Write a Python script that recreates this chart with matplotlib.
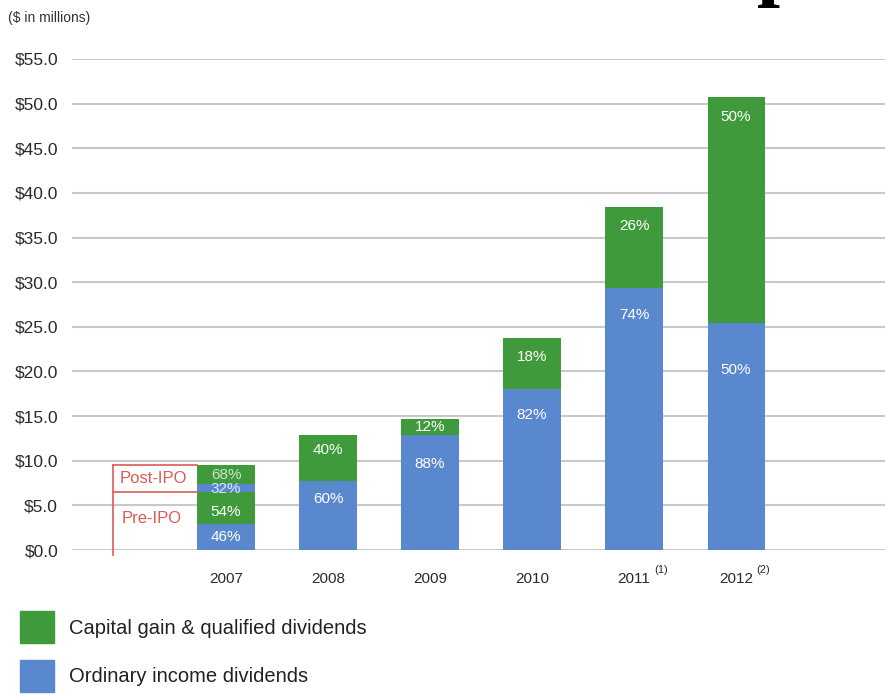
import matplotlib
matplotlib.use("Agg")
import matplotlib.pyplot as plt
from matplotlib.patches import Patch

plt.rcParams['font.family'] = ['Liberation Sans', 'DejaVu Sans']

# ---- data ----
years = ["2007", "2008", "2009", "2010", "2011", "2012"]
year_notes = ["", "", "", "", "(1)", "(2)"]
# 2007 split into pre-IPO and post-IPO portions
pre_ipo_ordinary = 2.95
pre_ipo_capital = 3.55
post_ipo_ordinary = 0.9
post_ipo_capital = 2.1
ordinary = [None, 7.75, 12.85, 18.0, 29.35, 25.4]
capital = [None, 5.15, 1.85, 5.75, 9.05, 25.3]
pct_ordinary = [None, "60%", "88%", "82%", "74%", "50%"]
pct_capital = [None, "40%", "12%", "18%", "26%", "50%"]
pct_2007 = ["46%", "54%", "32%", "68%"]  # pre ord, pre cap, post ord, post cap
yticks = [0, 5, 10, 15, 20, 25, 30, 35, 40, 45, 50, 55]

GREEN = "#3e9a3a"
BLUE = "#5a88cf"
RED = "#dd5a55"

W, H = 885, 695
fig = plt.figure(figsize=(W / 100, H / 100), dpi=100)
ax = fig.add_axes([72 / W, 1 - 550 / H, 1 - 72 / W, (550 - 59) / H])

bw = 0.56
x = list(range(len(years)))

# 2007 stacked segments
segs07 = [pre_ipo_ordinary, pre_ipo_capital, post_ipo_ordinary, post_ipo_capital]
cols07 = [BLUE, GREEN, BLUE, GREEN]
txtc07 = ["white", "white", "#dde6f5", "#cfe3cc"]
offs07 = [13, 20, 5, 10]  # label offset below segment top (px)
bottom = 0
for v, c, lab, off, tc in zip(segs07, cols07, pct_2007, offs07, txtc07):
    ax.bar(0, v, bw, bottom=bottom, color=c, zorder=3)
    ax.annotate(lab, (0, bottom + v), xytext=(0, -off * 0.72), textcoords="offset points",
                ha="center", va="center", color=tc, fontsize=11, zorder=4)
    bottom += v

# other years
offs_ord = [None, 18, 29, 26, 27, 47]
offs_cap = [None, 15, 8, 19, 19, 20]
for i in range(1, len(years)):
    ax.bar(i, ordinary[i], bw, color=BLUE, zorder=3)
    ax.bar(i, capital[i], bw, bottom=ordinary[i], color=GREEN, zorder=3)
    ax.annotate(pct_ordinary[i], (i, ordinary[i]), xytext=(0, -offs_ord[i] * 0.72),
                textcoords="offset points", ha="center", va="center",
                color="white", fontsize=11, zorder=4)
    ax.annotate(pct_capital[i], (i, ordinary[i] + capital[i]), xytext=(0, -offs_cap[i] * 0.72),
                textcoords="offset points", ha="center", va="center",
                color="white", fontsize=11, zorder=4)

ax.set_ylim(0, 55)
ax.set_xlim(-1.51, 6.46)
ax.set_yticks(yticks)
ax.set_yticklabels([f"${v:.1f}" for v in yticks], fontsize=12.5, color="#2a2a2a")
ax.set_xticks(x)
ax.set_xticklabels(years, fontsize=11, color="#2a2a2a")
ax.tick_params(axis="both", length=0)
ax.tick_params(axis="y", pad=10)
ax.tick_params(axis="x", pad=16)
for s in ax.spines.values():
    s.set_visible(False)
ax.yaxis.grid(True, color="#c8c8c8", linewidth=1.5, zorder=0)
ax.set_axisbelow(True)

# superscript notes
for i, n in enumerate(year_notes):
    if n:
        ax.annotate(n, (i, 0), xytext=(14.5, -14.5), textcoords="offset points",
                    ha="left", va="center", fontsize=8, color="#2a2a2a",
                    annotation_clip=False)

# Pre/Post IPO bracket
top07 = sum(segs07)
mid07 = pre_ipo_ordinary + pre_ipo_capital
xl = -1.108
ax.plot([xl, xl], [top07, -0.6], color=RED, lw=1.2, clip_on=False, zorder=5)
ax.plot([xl, -bw / 2], [top07, top07], color=RED, lw=1.2, clip_on=False, zorder=5)
ax.plot([xl, -bw / 2], [mid07, mid07], color=RED, lw=1.2, clip_on=False, zorder=5)
ax.text(-1.04, (top07 + mid07) / 2, "Post-IPO", color=RED, fontsize=12,
        ha="left", va="center")
ax.text(-1.02, mid07 / 2 + 0.3, "Pre-IPO", color=RED, fontsize=12,
        ha="left", va="center")

fig.text(8 / W, 1 - 18 / H, "($ in millions)", fontsize=10, color="#333333",
         ha="left", va="center")

# cut-off title glyph at top right
fig.text(757 / W, 1 + 10 / H, "p", fontsize=60, family="Liberation Serif",
         fontweight="bold", ha="left", va="baseline", color="black")

handles = [Patch(color=GREEN), Patch(color=BLUE)]
fig.legend(handles, ["Capital gain & qualified dividends", "Ordinary income dividends"],
           loc="upper left", bbox_to_anchor=(20 / W, 1 - 611 / H), frameon=False,
           fontsize=14.5, handlelength=1.7, handleheight=2.1, handletextpad=0.72,
           labelspacing=0.8, borderpad=0, borderaxespad=0, labelcolor="#222222")

fig.savefig("out.png", dpi=100)
